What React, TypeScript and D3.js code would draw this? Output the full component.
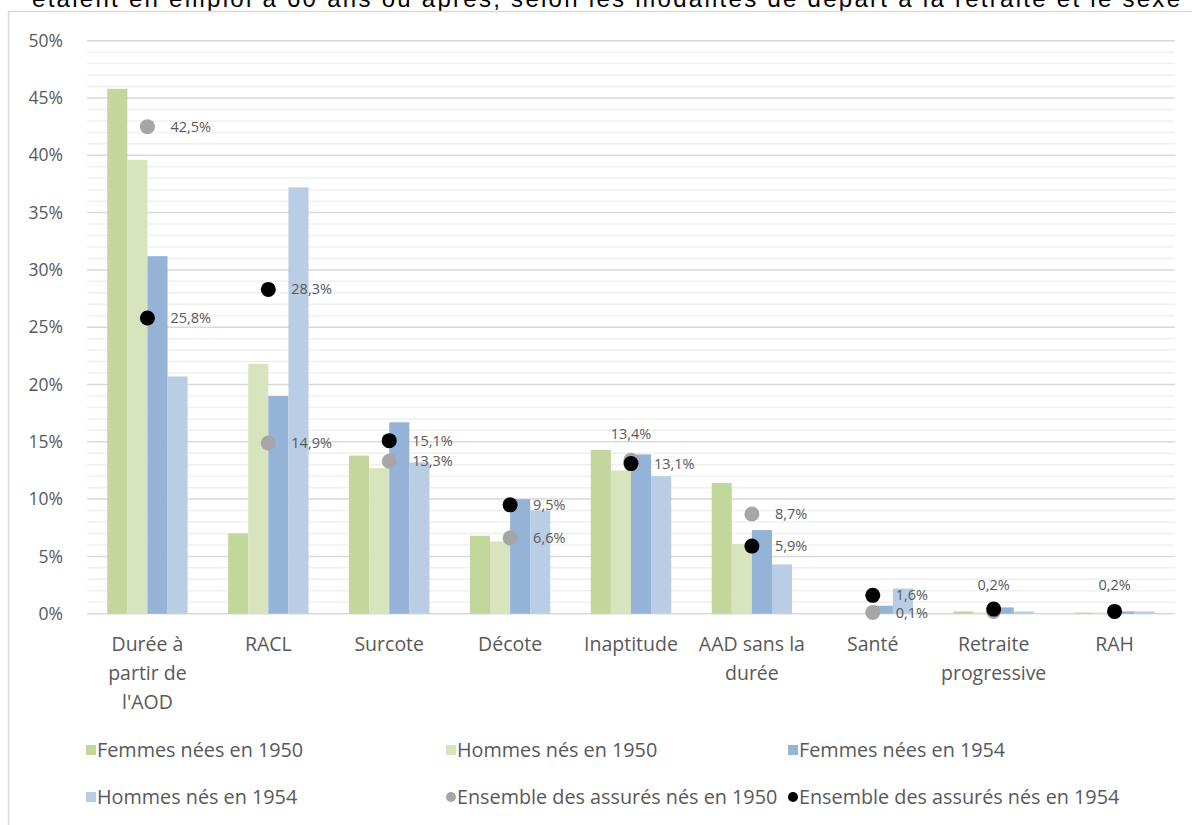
import React from "react";
import * as d3 from "d3";

const categories: string[][] = [
  ["Durée à", "partir de", "l'AOD"],
  ["RACL"],
  ["Surcote"],
  ["Décote"],
  ["Inaptitude"],
  ["AAD sans la", "durée"],
  ["Santé"],
  ["Retraite", "progressive"],
  ["RAH"],
];

const femmes1950 = [45.8, 7.0, 13.8, 6.8, 14.3, 11.4, 0.0, 0.2, 0.1];
const hommes1950 = [39.6, 21.8, 12.7, 6.3, 12.5, 6.1, 0.0, 0.1, 0.1];
const femmes1954 = [31.2, 19.0, 16.7, 10.0, 13.9, 7.3, 0.7, 0.55, 0.2];
const hommes1954 = [20.7, 37.2, 13.2, 9.0, 12.0, 4.3, 2.2, 0.2, 0.2];

const ensemble1950 = [42.5, 14.9, 13.3, 6.6, 13.4, 8.7, 0.1, 0.2, 0.2];
const ensemble1954 = [25.8, 28.3, 15.1, 9.5, 13.1, 5.9, 1.6, 0.4, 0.2];

// where each point label goes: "r" right, "a" above, "" none
const labelPos1950 = ["r", "r", "r", "r", "a", "r", "r", "a", "a"];
const labelPos1954 = ["r", "r", "r", "r", "r", "r", "r", "", ""];

const yTicks = [0, 5, 10, 15, 20, 25, 30, 35, 40, 45, 50];

const barSeries = [
  { name: "Femmes nées en 1950", values: femmes1950, color: "#c3d69b" },
  { name: "Hommes nés en 1950", values: hommes1950, color: "#d7e4bd" },
  { name: "Femmes nées en 1954", values: femmes1954, color: "#95b3d7" },
  { name: "Hommes nés en 1954", values: hommes1954, color: "#b9cde5" },
];

const dotSeries = [
  { name: "Ensemble des assurés nés en 1950", values: ensemble1950, color: "#a6a6a6", pos: labelPos1950 },
  { name: "Ensemble des assurés nés en 1954", values: ensemble1954, color: "#000000", pos: labelPos1954 },
];

const FONT = "'Open Sans', sans-serif";
const TXT = "#595959";

const fmt = (v: number) => v.toFixed(1).replace(".", ",") + "%";

export default function App() {
  const W = 1192, H = 825;
  const x0 = 87, x1 = 1175;
  const yTop = 40.7, yBot = 613.7;

  const x = d3.scaleBand<number>().domain(d3.range(categories.length)).range([x0, x1]).paddingInner(0).paddingOuter(0);
  const y = d3.scaleLinear().domain([0, 50]).range([yBot, yTop]);
  const groupW = x.bandwidth() * 0.665;
  const xs = d3.scaleBand<number>().domain(d3.range(barSeries.length)).range([0, groupW]);
  const minor = d3.range(0, 51, 1).filter((v) => v % 5 !== 0);

  const legendItems = [
    { name: barSeries[0].name, color: barSeries[0].color, type: "rect", x: 86, y: 750 },
    { name: barSeries[1].name, color: barSeries[1].color, type: "rect", x: 446, y: 750 },
    { name: barSeries[2].name, color: barSeries[2].color, type: "rect", x: 788, y: 750 },
    { name: barSeries[3].name, color: barSeries[3].color, type: "rect", x: 86, y: 797 },
    { name: dotSeries[0].name, color: dotSeries[0].color, type: "dot", x: 446, y: 797 },
    { name: dotSeries[1].name, color: dotSeries[1].color, type: "dot", x: 788, y: 797 },
  ];

  return (
    <svg width={W} height={H} style={{ position: "absolute", left: 0, top: 0, background: "#fff" }}>
      <text x={32} y={7} fontFamily="'Liberation Sans', Arial, sans-serif" fontSize={24} fill="#000" textLength={1148} lengthAdjust="spacing">
        étaient en emploi à 60 ans ou après, selon les modalités de départ à la retraite et le sexe
      </text>
      <rect x={8.5} y={11.5} width={1300} height={900} fill="#fff" stroke="#d9d9d9" strokeWidth={1.5} />

      {minor.map((v) => (
        <line key={"m" + v} x1={x0} x2={x1} y1={y(v)} y2={y(v)} stroke="#efefef" strokeWidth={1.5} />
      ))}
      {yTicks.map((v) => (
        <g key={"t" + v}>
          <line x1={x0} x2={x1} y1={y(v)} y2={y(v)} stroke="#d9d9d9" strokeWidth={1.5} />
          <text x={63} y={y(v)} dy="0.35em" textAnchor="end" fontFamily={FONT} fontSize={17.5} fill={TXT}>
            {v}%
          </text>
        </g>
      ))}

      {categories.map((c, i) => {
        const gx = (x(i) as number) + (x.bandwidth() - groupW) / 2;
        return (
          <g key={"c" + i}>
            {barSeries.map((s, j) => (
              <rect
                key={j}
                x={gx + (xs(j) as number)}
                width={xs.bandwidth()}
                y={y(s.values[i])}
                height={yBot - y(s.values[i])}
                fill={s.color}
              />
            ))}
            {c.map((line, k) => (
              <text key={k} x={(x(i) as number) + x.bandwidth() / 2} y={651 + k * 29} textAnchor="middle" fontFamily={FONT} fontSize={19.5} fill={TXT}>
                {line}
              </text>
            ))}
          </g>
        );
      })}

      {dotSeries.map((s, si) => (
        <g key={"d" + si}>
          {s.values.map((v, i) => {
            const cx = (x(i) as number) + x.bandwidth() / 2;
            return <circle key={i} cx={cx} cy={y(v)} r={7.5} fill={s.color} />;
          })}
        </g>
      ))}
      {dotSeries.map((s, si) => (
        <g key={"l" + si}>
          {s.values.map((v, i) => {
            const cx = (x(i) as number) + x.bandwidth() / 2;
            const p = s.pos[i];
            if (!p) return null;
            if (p === "r")
              return (
                <text key={i} x={cx + 23} y={y(v)} dy="0.35em" fontFamily={FONT} fontSize={14.5} fill={TXT}>
                  {fmt(v)}
                </text>
              );
            return (
              <text key={i} x={cx} y={y(v) - 21} textAnchor="middle" fontFamily={FONT} fontSize={14.5} fill={TXT}>
                {fmt(v)}
              </text>
            );
          })}
        </g>
      ))}

      {legendItems.map((it, i) => (
        <g key={"lg" + i}>
          {it.type === "rect" ? (
            <rect x={it.x} y={it.y - 5} width={10} height={10} fill={it.color} />
          ) : (
            <circle cx={it.x + 5} cy={it.y} r={5} fill={it.color} />
          )}
          <text x={it.x + 11} y={it.y} dy="0.35em" fontFamily={FONT} fontSize={19.8} fill={TXT}>
            {it.name}
          </text>
        </g>
      ))}
    </svg>
  );
}
